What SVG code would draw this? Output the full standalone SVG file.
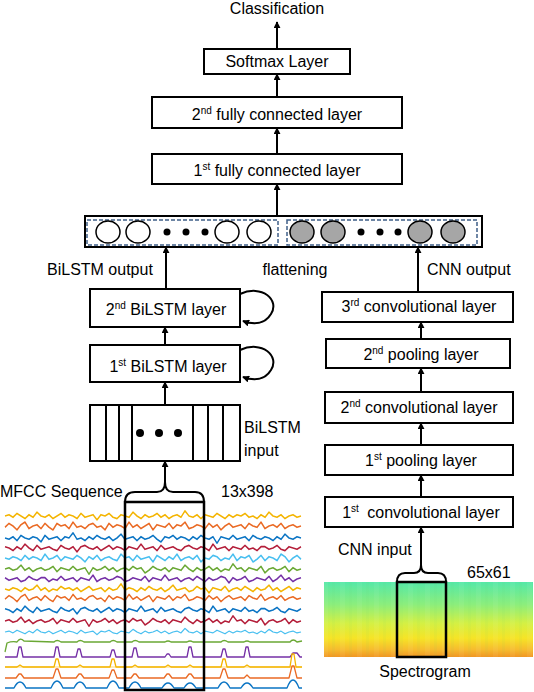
<svg xmlns="http://www.w3.org/2000/svg" width="534" height="692" viewBox="0 0 534 692">
<style>
text{font-family:"Liberation Sans",Arial,sans-serif;font-size:16px;fill:#000}
.mid{text-anchor:middle}
.box{fill:#fff;stroke:#000;stroke-width:2}
.sup{font-size:10px}
.conn{stroke:#000;stroke-width:2;fill:none}
.arr{marker-end:url(#ah)}
.dash{fill:none;stroke:#3f5f88;stroke-width:1.5;stroke-dasharray:4 2}
.wc{fill:#fff;stroke:#000;stroke-width:1.5}
.gc{fill:#a6a6a6;stroke:#000;stroke-width:1.5}
.sig{fill:none;stroke-width:1.3;stroke-linejoin:round}
.frame{fill:none;stroke:#000;stroke-width:2.5}
</style>
<defs>
<marker id="ah" viewBox="0 0 8 8" refX="7" refY="4" markerWidth="7" markerHeight="7" markerUnits="userSpaceOnUse" orient="auto"><path d="M0,0 L8,4 L0,8 z" fill="#000"/></marker>
<linearGradient id="spec" x1="0" y1="0" x2="0" y2="1">
<stop offset="0" stop-color="#55e8a8"/>
<stop offset="0.3" stop-color="#8cee7c"/>
<stop offset="0.55" stop-color="#d4f044"/>
<stop offset="0.75" stop-color="#f6e426"/>
<stop offset="0.9" stop-color="#f6bc2e"/>
<stop offset="1" stop-color="#f09624"/>
</linearGradient>
<pattern id="stripes" width="17" height="75" patternUnits="userSpaceOnUse">
<rect x="0" y="0" width="5" height="75" fill="#ffffff" opacity="0.05"/>
<rect x="9" y="0" width="3" height="75" fill="#60c060" opacity="0.05"/>
</pattern>
<polyline id="nA" points="0,0 4,-1 8,1 12,-2 16,0 20,2 24,-1 28,1 32,-3 36,0 40,1 44,-1 48,2 52,0 56,-2 60,1 64,-1 68,0 72,2 76,-2 80,1 84,0 88,-1 92,3 96,-1 100,0 104,-2 108,1 112,2 116,-1 120,0 124,1 128,-3 132,0 136,2 140,-1 144,1 148,0 152,-2 156,1 160,-1 164,2 168,0 172,-1 176,1 180,-4 184,0 188,1 192,-1 196,2 200,-1 204,0 208,1 212,-2 216,0 220,2 224,-1 228,1 232,-1 236,0 240,-2 244,1 248,0 252,2 256,-1 260,1 264,-3 268,0 272,1 276,-1 280,2 284,0 288,-1 292,1 296,0"/>
<polyline id="nB" points="0,1 4,-2 8,0 12,3 16,-1 20,-3 24,2 28,0 32,-1 36,2 40,-2 44,1 48,3 52,-2 56,0 60,-1 64,2 68,-3 72,1 76,0 80,2 84,-1 88,-2 92,1 96,0 100,3 104,-2 108,1 112,-1 116,0 120,2 124,-3 128,1 132,-1 136,2 140,0 144,-2 148,3 152,-1 156,0 160,1 164,-2 168,2 172,-1 176,0 180,-3 184,2 188,1 192,-1 196,0 200,2 204,-2 208,1 212,-1 216,3 220,0 224,-2 228,1 232,0 236,-1 240,2 244,-2 248,0 252,1 256,-3 260,2 264,0 268,-1 272,1 276,-2 280,2 284,0 288,-1 292,1 296,0"/>
<polyline id="nC" points="0,0 4,1 8,-1 12,2 16,-2 20,0 24,1 28,-1 32,0 36,3 40,-2 44,1 48,0 52,-1 56,2 60,-1 64,0 68,-4 72,1 76,0 80,2 84,-1 88,1 92,-2 96,0 100,1 104,-1 108,2 112,0 116,-3 120,1 124,0 128,-1 132,2 136,-1 140,1 144,0 148,-2 152,1 156,3 160,-1 164,0 168,-2 172,1 176,-1 180,0 184,2 188,-1 192,1 196,-2 200,0 204,1 208,-1 212,4 216,-1 220,0 224,1 228,-2 232,1 236,0 240,-1 244,2 248,-2 252,0 256,1 260,-1 264,0 268,2 272,-1 276,1 280,-3 284,0 288,1 292,-1 296,0"/>
<polyline id="nD" points="0,-1 4,0 8,2 12,-1 16,1 20,-3 24,0 28,2 32,-2 36,1 40,0 44,-1 48,1 52,2 56,-2 60,0 64,1 68,-1 72,3 76,-1 80,-2 84,0 88,1 92,-1 96,2 100,0 104,-2 108,1 112,-1 116,0 120,2 124,-1 128,0 132,1 136,-3 140,1 144,0 148,-1 152,2 156,-2 160,1 164,0 168,-1 172,1 176,2 180,-1 184,-2 188,0 192,1 196,-1 200,0 204,2 208,-3 212,1 216,0 220,-1 224,2 228,-1 232,0 236,1 240,-2 244,1 248,0 252,2 256,-1 260,-1 264,1 268,0 272,-2 276,1 280,2 284,-1 288,0 292,1 296,-1"/>
</defs>

<rect width="534" height="692" fill="#fff"/>

<g id="connectors">
<line class="conn arr" x1="277" y1="49" x2="277" y2="22"/>
<line class="conn arr" x1="277" y1="97" x2="277" y2="74"/>
<line class="conn arr" x1="277" y1="154" x2="277" y2="128"/>
<line class="conn arr" x1="277" y1="216" x2="277" y2="184"/>
<line class="conn arr" x1="166" y1="289" x2="166" y2="247"/>
<line class="conn arr" x1="418" y1="292" x2="418" y2="247"/>
<line class="conn arr" x1="165" y1="345" x2="165" y2="327"/>
<line class="conn arr" x1="165" y1="405" x2="165" y2="382"/>
<line class="conn arr" x1="165" y1="482" x2="165" y2="461"/>
<path class="conn arr" d="M240,294 C262,284 280,300 271,314 C265,324 254,325 243,321"/>
<path class="conn arr" d="M240,350 C262,340 280,356 271,370 C265,380 254,381 243,377"/>
<line class="conn arr" x1="421" y1="339" x2="421" y2="322"/>
<line class="conn arr" x1="421" y1="392" x2="421" y2="368"/>
<line class="conn arr" x1="421" y1="445" x2="421" y2="423"/>
<line class="conn arr" x1="421" y1="497" x2="421" y2="475"/>
<line class="conn arr" x1="421" y1="565" x2="421" y2="527"/>
</g>

<text id="classification" class="mid" x="277" y="14">Classification</text>

<g id="softmax"><rect class="box" x="204" y="49" width="146" height="25"/><text class="mid" x="277" y="67">Softmax Layer</text></g>
<g id="fc2"><rect class="box" x="152" y="97" width="250" height="31"/><text class="mid" x="277" y="120">2<tspan class="sup" dy="-6">nd</tspan><tspan dy="6"> fully connected layer</tspan></text></g>
<g id="fc1"><rect class="box" x="152" y="154" width="250" height="30"/><text class="mid" x="277" y="176">1<tspan class="sup" dy="-6">st</tspan><tspan dy="6"> fully connected layer</tspan></text></g>

<g id="flatten">
<rect class="box" x="85" y="216" width="397" height="31"/>
<rect class="dash" x="87" y="220" width="191" height="25"/>
<rect class="dash" x="287" y="220" width="190" height="25"/>
<ellipse class="wc" cx="108" cy="232" rx="12" ry="11"/>
<ellipse class="wc" cx="138" cy="232" rx="12" ry="11"/>
<circle cx="167" cy="232" r="3.5"/><circle cx="186" cy="232" r="3.5"/><circle cx="205" cy="232" r="3.5"/>
<ellipse class="wc" cx="227" cy="232" rx="12" ry="11"/>
<ellipse class="wc" cx="259" cy="232" rx="12" ry="11"/>
<ellipse class="gc" cx="302" cy="232" rx="12" ry="11"/>
<ellipse class="gc" cx="333" cy="232" rx="12" ry="11"/>
<circle cx="361" cy="232" r="3.5"/><circle cx="380" cy="232" r="3.5"/><circle cx="398" cy="232" r="3.5"/>
<ellipse class="gc" cx="420" cy="232" rx="12" ry="11"/>
<ellipse class="gc" cx="453" cy="232" rx="12" ry="11"/>
</g>

<text x="47" y="275">BiLSTM output</text>
<text class="mid" x="295" y="275">flattening</text>
<text x="427" y="275">CNN output</text>

<g id="bilstm2"><rect class="box" x="90" y="289" width="150" height="38"/><text class="mid" x="166" y="315">2<tspan class="sup" dy="-6">nd</tspan><tspan dy="6"> BiLSTM layer</tspan></text></g>
<g id="bilstm1"><rect class="box" x="90" y="345" width="150" height="37"/><text class="mid" x="168" y="372">1<tspan class="sup" dy="-6">st</tspan><tspan dy="6"> BiLSTM layer</tspan></text></g>
<g id="bilstm-input">
<rect class="box" x="90" y="405" width="150" height="56"/>
<path d="M106,405 V461 M119,405 V461 M132,405 V461 M193,405 V461 M208,405 V461 M223,405 V461" stroke="#000" stroke-width="2"/>
<circle cx="140" cy="433" r="4"/><circle cx="159" cy="433" r="4"/><circle cx="178" cy="433" r="4"/>
<text x="244" y="433">BiLSTM</text>
<text x="244" y="456">input</text>
</g>

<g id="conv3"><rect class="box" x="322" y="292" width="191" height="30"/><text class="mid" x="419" y="312">3<tspan class="sup" dy="-6">rd</tspan><tspan dy="6"> convolutional layer</tspan></text></g>
<g id="pool2"><rect class="box" x="326" y="339" width="184" height="29"/><text class="mid" x="421" y="360">2<tspan class="sup" dy="-6">nd</tspan><tspan dy="6"> pooling layer</tspan></text></g>
<g id="conv2"><rect class="box" x="325" y="392" width="188" height="31"/><text class="mid" x="419" y="413">2<tspan class="sup" dy="-6">nd</tspan><tspan dy="6"> convolutional layer</tspan></text></g>
<g id="pool1"><rect class="box" x="325" y="445" width="188" height="30"/><text class="mid" x="421" y="466">1<tspan class="sup" dy="-6">st</tspan><tspan dy="6"> pooling layer</tspan></text></g>
<g id="conv1"><rect class="box" x="325" y="497" width="188" height="30"/><text class="mid" x="421" y="518">1<tspan class="sup" dy="-6">st</tspan><tspan dy="6" dx="4"> convolutional layer</tspan></text></g>

<text x="338" y="555">CNN input</text>
<text x="467" y="578">65x61</text>

<g id="spectrogram">
<rect x="324" y="582" width="209" height="75" fill="url(#spec)"/>
<rect x="324" y="582" width="209" height="75" fill="url(#stripes)"/>
<rect class="frame" x="397" y="582" width="49" height="75"/>
<path class="conn" d="M397,582 Q397,573 405,573 L414,573 Q421,573 421,565 Q421,573 428,573 L438,573 Q446,573 446,582"/>
<text class="mid" x="425" y="677">Spectrogram</text>
</g>

<text x="0" y="497">MFCC Sequence</text>
<text x="221" y="497">13x398</text>

<g id="mfcc">
<use href="#nA" class="sig" stroke="#f4b400" transform="translate(5,516) scale(1,1.3)"/>
<use href="#nB" class="sig" stroke="#ea6a24" transform="translate(5,526) scale(1,1.3)"/>
<use href="#nC" class="sig" stroke="#0a74c4" transform="translate(5,538) scale(1,1.3)"/>
<use href="#nD" class="sig" stroke="#b41e3a" transform="translate(5,548) scale(1,1.3)"/>
<use href="#nB" class="sig" stroke="#48bff0" transform="translate(301,558) scale(-1,1.3)"/>
<use href="#nC" class="sig" stroke="#6aa834" transform="translate(301,569) scale(-1,1.3)"/>
<use href="#nD" class="sig" stroke="#7530a6" transform="translate(301,579) scale(-1,1.3)"/>
<use href="#nA" class="sig" stroke="#f4b400" transform="translate(301,589) scale(-1,1.3)"/>
<use href="#nB" class="sig" stroke="#ea6a24" transform="translate(5,598) scale(1,1.2)"/>
<use href="#nD" class="sig" stroke="#0a74c4" transform="translate(5,610) scale(1,1.3)"/>
<use href="#nC" class="sig" stroke="#b41e3a" transform="translate(301,621) scale(-1,1.3)"/>
<use href="#nA" class="sig" stroke="#48bff0" transform="translate(5,632) scale(1,0.9)"/>
<path class="sig" stroke="#6aa834" d="M5,652 L7,643 Q12,641 17,642 Q20,637 24,641 L54,642 Q57,639 61,642 L77,642 Q80,639 84,642 L110,642 Q113,639 117,642 L132,642 Q135,639 139,642 L165,642 Q168,640 171,642 L187,642 Q190,640 193,642 L221,642 Q224,639 228,642 L244,642 Q247,640 250,642 L290,642 Q293,638 297,642 L302,641"/>
<path class="sig" stroke="#7530a6" d="M5,657 L17,657 L19,647 L21,647 L23,657 L54,657 L56,647 L58,647 L60,657 L76,657 L78,649 L80,649 L82,657 L110,657 L112,650 L114,650 L116,657 L132,657 L134,648 L136,648 L138,657 L165,657 L167,654 L169,654 L171,657 L187,657 L189,647 L191,647 L193,657 L221,657 L223,649 L225,649 L227,657 L244,657 L246,647 L248,647 L250,657 L290,657 L293,653 L297,653 L300,657 L302,657"/>
<path class="sig" stroke="#ffe7a0" stroke-width="3.5" d="M5,667 L302,667"/>
<path class="sig" stroke="#f4b400" d="M5,667 L17,667 L20,665 L23,667 L54,667 L56,659 L58,659 L60,667 L77,667 L80,665 L83,667 L110,667 L112,659 L114,659 L116,667 L132,667 L135,665 L138,667 L165,667 L168,665 L171,667 L187,667 L190,665 L193,667 L221,667 L223,659 L225,659 L227,667 L244,667 L247,665 L250,667 L290,667 L292,654 L294,654 L296,667 L302,667"/>
<path class="sig" stroke="#ea6a24" d="M5,678 L16,678 L19,674 L21,674 L24,678 L53,678 L56,669 L58,669 L61,678 L76,678 L79,674 L81,674 L84,678 L109,678 L112,670 L114,670 L117,678 L131,678 L134,674 L136,674 L139,678 L164,678 L167,674 L169,674 L172,678 L186,678 L189,674 L191,674 L194,678 L220,678 L223,669 L225,669 L228,678 L244,678 L247,675 L250,678 L289,678 L292,666 L294,666 L297,678 L302,678"/>
<path class="sig" stroke="#0a74c4" d="M5,688 L14,688 Q20,676 26,688 L51,688 Q57,674 63,688 L74,688 Q80,676 86,688 L107,688 Q113,674 119,688 L129,688 Q135,676 141,688 L162,688 Q168,678 174,688 L184,688 Q190,678 196,688 L218,688 Q224,676 230,688 L241,688 Q247,678 253,688 L287,688 Q293,672 299,688 L302,688"/>
<rect class="frame" x="125" y="502" width="79" height="188"/>
<path class="conn" d="M125,502 Q125,492 135,492 L157,492 Q165,492 165,482 Q165,492 173,492 L195,492 Q204,492 204,502"/>
</g>
</svg>
